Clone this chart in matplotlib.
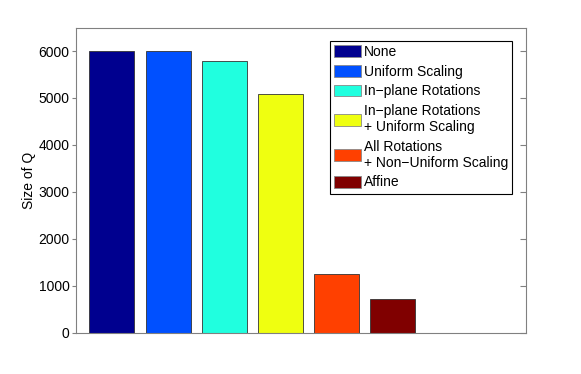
import matplotlib
matplotlib.use("Agg")
import matplotlib.pyplot as plt
import numpy as np

plt.rcParams["font.family"] = ["Liberation Sans", "DejaVu Sans"]

# data
labels = [
    "None",
    "Uniform Scaling",
    "In\u2212plane Rotations",
    "In\u2212plane Rotations\n+ Uniform Scaling",
    "All Rotations\n+ Non\u2212Uniform Scaling",
    "Affine",
]
sizes = [6000, 6000, 5780, 5090, 1250, 715]
colors = ["#00008F", "#0050FF", "#20FFDF", "#EFFF10", "#FF4000", "#800000"]
yticks = [0, 1000, 2000, 3000, 4000, 5000, 6000]

fig = plt.figure(figsize=(5.81, 3.74), dpi=100)
ax = fig.add_axes([0.1303, 0.1104, 0.775, 0.816])

xs = np.arange(1, len(sizes) + 1)
for x, h, c, lab in zip(xs, sizes, colors, labels):
    ax.bar(x, h, width=0.8, color=c, edgecolor="#333333", linewidth=0.6, label=lab)

ax.set_xlim(0.357, 8.37)
ax.set_ylim(0, 6500)
ax.set_xticks([])
ax.set_yticks(yticks)
ax.tick_params(axis="y", direction="out", length=3, pad=1.5, color="#808080",
               labelsize=10, width=0.8)
for s in ax.spines.values():
    s.set_color("#808080")
    s.set_linewidth(0.8)
ax.set_ylabel("Size of Q", fontsize=10, labelpad=2)

# right side ticks point inward
ax2 = ax.twinx()
ax2.set_ylim(ax.get_ylim())
ax2.set_yticks(yticks)
ax2.tick_params(axis="y", direction="in", length=4, color="#808080", labelright=False, width=0.8)
for s in ax2.spines.values():
    s.set_visible(False)

leg = ax.legend(
    loc="upper right",
    bbox_to_anchor=(512.3 / 581, 1 - 41 / 374),
    bbox_transform=fig.transFigure,
    borderaxespad=0,
    fontsize=10,
    fancybox=False,
    framealpha=1,
    edgecolor="black",
    handlelength=1.95,
    handleheight=0.95,
    handletextpad=0.2,
    labelspacing=0.4,
    borderpad=0.3,
)
leg.get_frame().set_linewidth(0.8)
for p in leg.get_patches():
    p.set_edgecolor("#888888")

fig.savefig("out.png", dpi=100)
